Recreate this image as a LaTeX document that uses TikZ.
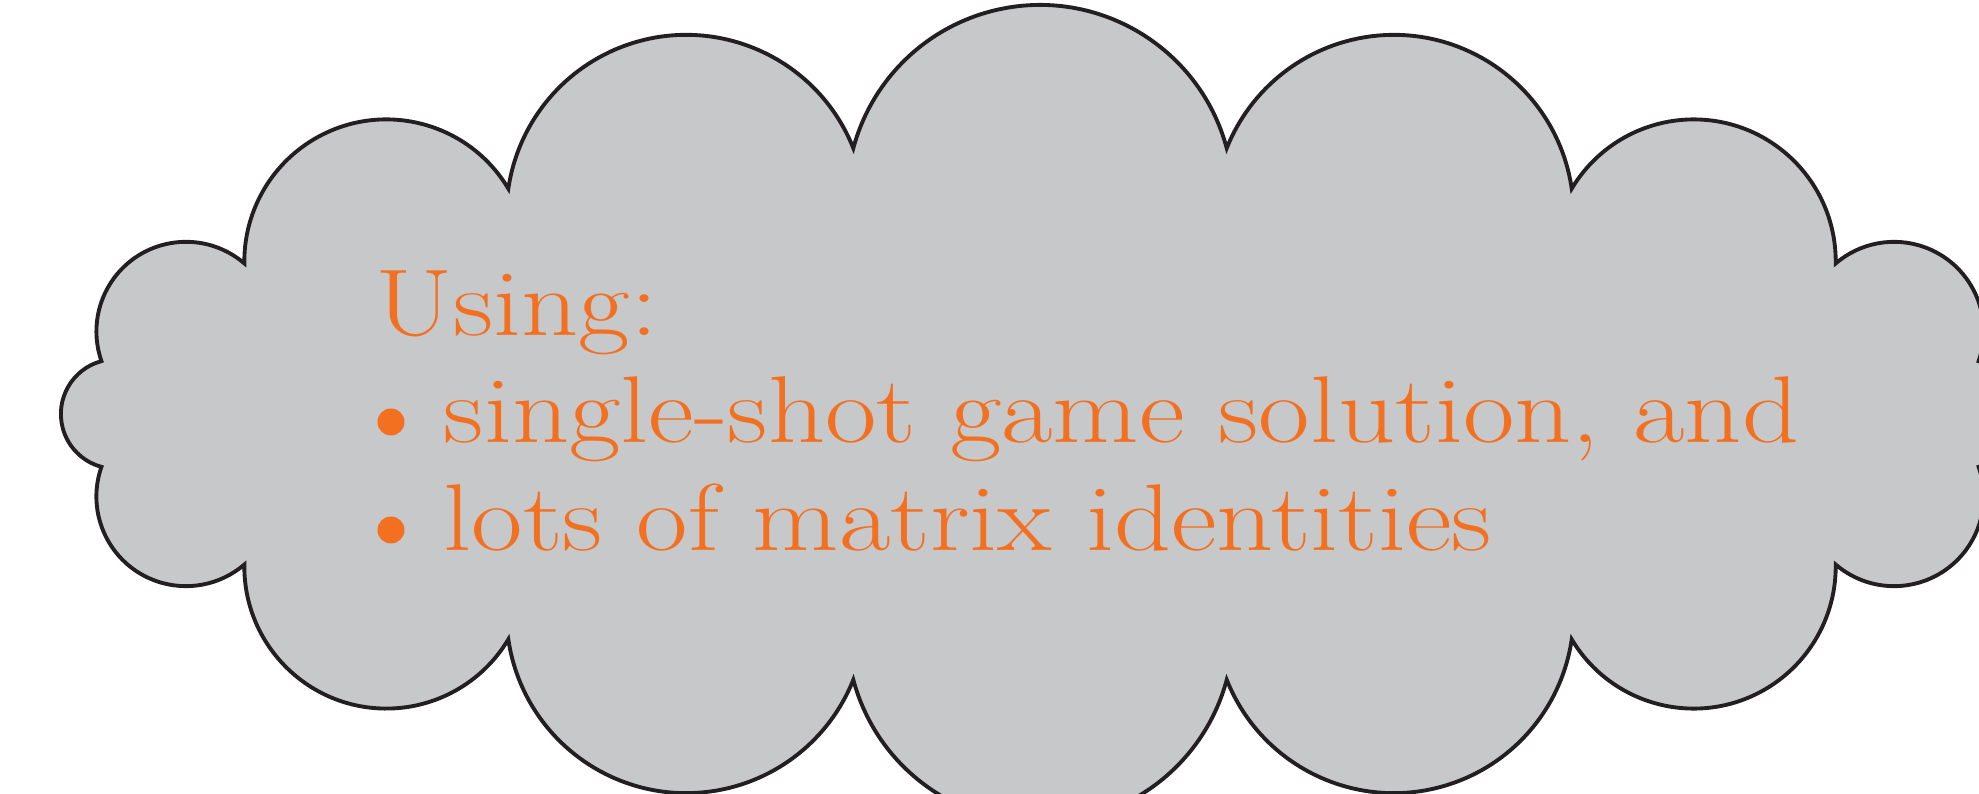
\documentclass[tikz,border=0pt]{standalone}
\usepackage{xcolor}
\definecolor{cloudfill}{RGB}{199,200,202}
\definecolor{cloudline}{RGB}{35,31,32}
\definecolor{accent}{RGB}{243,112,33}

\begin{document}
\begin{tikzpicture}[
  cloudshape/.style={draw=cloudline,fill=cloudfill,line width=1.1pt},
  cloudtext/.style={anchor=base west,inner sep=0pt,text=accent,font=\fontsize{27}{32}\selectfont,xscale=1.18},
  bulletdot/.style={circle,fill=accent,inner sep=0pt,minimum size=0.27cm}]
\clip (-10.40,-3.80) rectangle (9.39,4.14);
% 16 puffs, 150 degree arcs, cusps on an ellipse
\draw[cloudshape] (9.386,0.5287)
  \foreach \sa/\ea/\rad in {-19.36/130.64/0.896, -0.81/149.19/1.4203, 8.31/158.31/1.7981,
    15/165/1.9329, 21.69/171.69/1.7981, 30.81/180.81/1.4203, 49.36/199.36/0.896,
    105/255/0.54735, 160.64/310.64/0.896, 179.19/329.19/1.4203, 188.31/338.31/1.7981,
    195/345/1.9329, 201.69/351.69/1.7981, 210.81/360.81/1.4203, 229.36/379.36/0.896,
    285/435/0.54735}
  {arc[start angle=\sa,end angle=\ea,radius=\rad]} -- cycle;
\node[cloudtext] (using) at (-6.65,0.78) {Using:};
\node[bulletdot] (dot1) at (-6.49,-0.08) {};
\node[cloudtext] (item1) at (-5.97,-0.29) {single-shot game solution, and};
\node[bulletdot] (dot2) at (-6.49,-1.16) {};
\node[cloudtext] (item2) at (-5.97,-1.37) {lots of matrix identities};
\end{tikzpicture}
\end{document}
